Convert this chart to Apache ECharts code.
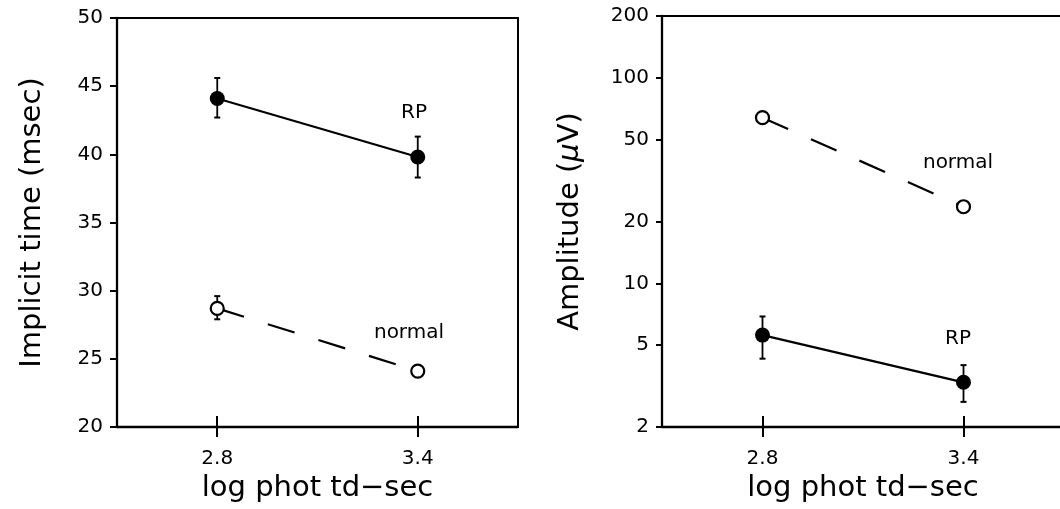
<!DOCTYPE html>
<html>
<head>
<meta charset="utf-8">
<script src="https://cdn.jsdelivr.net/npm/echarts@6/dist/echarts.min.js"></script>
<style>
html,body{margin:0;padding:0;background:#fff;}
#c{width:1060px;height:509px;}
</style>
</head>
<body>
<div id="c"></div>
<script>
// ---- data ----
const xValues = [2.8, 3.4];
const xTickValues = [2.8, 3.4];
const leftYTicks = [20, 25, 30, 35, 40, 45, 50];
const rightYTicks = [2, 5, 10, 20, 50, 100, 200];

// Left panel: implicit time (msec)
const implicitRP = [44.1, 39.8];
const implicitRPLow = [42.7, 38.3];
const implicitRPHigh = [45.6, 41.3];
const implicitNormal = [28.7, 24.1];
const implicitNormalLow = [27.9, null];
const implicitNormalHigh = [29.6, null];

// Right panel: amplitude (µV)
const ampNormal = [64, 23.6];
const ampRP = [5.6, 3.3];
const ampRPLow = [4.3, 2.65];
const ampRPHigh = [6.9, 4.0];

const FONT = 'DejaVu Sans';

function pts(ys) { return xValues.map((x, i) => [x, ys[i]]); }
function errPts(lo, hi) {
  const out = [];
  xValues.forEach((x, i) => { if (lo[i] != null && hi[i] != null) out.push([x, lo[i], hi[i]]); });
  return out;
}

function renderErr(params, api) {
  const x = api.value(0), lo = api.value(1), hi = api.value(2);
  const a = api.coord([x, lo]), b = api.coord([x, hi]);
  const w = 3;
  const st = { stroke: '#000', lineWidth: 1.8 };
  return {
    type: 'group',
    children: [
      { type: 'line', shape: { x1: a[0], y1: a[1], x2: b[0], y2: b[1] }, style: st },
      { type: 'line', shape: { x1: a[0] - w, y1: a[1], x2: a[0] + w, y2: a[1] }, style: { stroke: '#000', lineWidth: 2 } },
      { type: 'line', shape: { x1: b[0] - w, y1: b[1], x2: b[0] + w, y2: b[1] }, style: { stroke: '#000', lineWidth: 2 } }
    ]
  };
}

function xAxisMain(gi) {
  return {
    type: 'value', gridIndex: gi, min: 2.5, max: 3.7,
    name: 'log phot td\u2212sec', nameLocation: 'middle', nameGap: 44,
    nameTextStyle: { fontFamily: FONT, fontSize: 29, color: '#000', verticalAlign: 'top' },
    axisLine: { show: true, lineStyle: { color: '#000', width: 2.3 } },
    axisTick: { show: true, inside: false, length: 10, lineStyle: { color: '#000', width: 2 }, customValues: xTickValues },
    axisLabel: { show: true, customValues: xTickValues, margin: 22, fontFamily: FONT, fontSize: 20, color: '#000',
      formatter: v => Number(v).toFixed(1) },
    splitLine: { show: false }
  };
}
function xAxisInner(gi) {
  return {
    type: 'value', gridIndex: gi, min: 2.5, max: 3.7, position: 'bottom',
    axisLine: { show: false },
    axisTick: { show: true, inside: true, length: 11, lineStyle: { color: '#000', width: 2 }, customValues: xTickValues },
    axisLabel: { show: false },
    splitLine: { show: false }
  };
}

const option = {
  backgroundColor: '#fff',
  animation: false,
  grid: [
    { left: 117, top: 18, width: 401, height: 409, outerBoundsMode: 'none', containLabel: false,
      show: true, borderColor: '#000', borderWidth: 2, backgroundColor: 'transparent' },
    { left: 662, top: 16, width: 402, height: 411, outerBoundsMode: 'none', containLabel: false,
      show: true, borderColor: '#000', borderWidth: 2, backgroundColor: 'transparent' }
  ],
  xAxis: [xAxisMain(0), xAxisMain(1), xAxisInner(0), xAxisInner(1)],
  yAxis: [
    {
      type: 'value', gridIndex: 0, min: 20, max: 50, interval: 5,
      name: 'Implicit time (msec)', nameLocation: 'middle', nameGap: 70,
      nameTextStyle: { fontFamily: FONT, fontSize: 29, color: '#000' },
      axisLine: { show: true, lineStyle: { color: '#000', width: 2.3 } },
      axisTick: { show: true, length: 7, lineStyle: { color: '#000', width: 2 }, customValues: leftYTicks },
      axisLabel: { customValues: leftYTicks, margin: 14, fontFamily: FONT, fontSize: 20, color: '#000' },
      splitLine: { show: false }
    },
    {
      type: 'log', logBase: 10, gridIndex: 1, min: 2, max: 200,
      name: 'Amplitude ({i|\u03bc}V)', nameLocation: 'middle', nameGap: 77,
      nameTextStyle: { fontFamily: FONT, fontSize: 29, color: '#000',
        rich: { i: { fontFamily: FONT, fontSize: 29, fontStyle: 'italic', color: '#000' } } },
      axisLine: { show: true, lineStyle: { color: '#000', width: 2.3 } },
      axisTick: { show: true, length: 6, lineStyle: { color: '#000', width: 2 }, customValues: rightYTicks },
      axisLabel: { customValues: rightYTicks, margin: 13, fontFamily: FONT, fontSize: 20, color: '#000',
        formatter: v => String(+Number(v).toPrecision(3)) },
      splitLine: { show: false }
    }
  ],
  series: [
    // left panel
    { type: 'custom', xAxisIndex: 0, yAxisIndex: 0, renderItem: renderErr, data: errPts(implicitRPLow, implicitRPHigh), z: 1, silent: true },
    { type: 'custom', xAxisIndex: 0, yAxisIndex: 0, renderItem: renderErr, data: errPts(implicitNormalLow, implicitNormalHigh), z: 1, silent: true },
    { type: 'line', name: 'RP', xAxisIndex: 0, yAxisIndex: 0, data: pts(implicitRP), z: 3,
      symbol: 'circle', symbolSize: 15, itemStyle: { color: '#000' },
      lineStyle: { color: '#000', width: 2.2 } },
    { type: 'line', name: 'normal', xAxisIndex: 0, yAxisIndex: 0, data: pts(implicitNormal), z: 3,
      symbol: 'circle', symbolSize: 13, itemStyle: { color: '#fff', borderColor: '#000', borderWidth: 2.2 },
      lineStyle: { color: '#000', width: 2.2, type: [28, 25] } },
    // right panel
    { type: 'custom', xAxisIndex: 1, yAxisIndex: 1, renderItem: renderErr, data: errPts(ampRPLow, ampRPHigh), z: 1, silent: true },
    { type: 'line', name: 'normal', xAxisIndex: 1, yAxisIndex: 1, data: pts(ampNormal), z: 3,
      symbol: 'circle', symbolSize: 13, itemStyle: { color: '#fff', borderColor: '#000', borderWidth: 2.2 },
      lineStyle: { color: '#000', width: 2.2, type: [28, 25] } },
    { type: 'line', name: 'RP', xAxisIndex: 1, yAxisIndex: 1, data: pts(ampRP), z: 3,
      symbol: 'circle', symbolSize: 15, itemStyle: { color: '#000' },
      lineStyle: { color: '#000', width: 2.2 } }
  ],
  graphic: [
    { type: 'text', x: 414, y: 113, style: { text: 'RP', fontFamily: FONT, fontSize: 20, fill: '#000', align: 'center', verticalAlign: 'middle' } },
    { type: 'text', x: 409, y: 333, style: { text: 'normal', fontFamily: FONT, fontSize: 20, fill: '#000', align: 'center', verticalAlign: 'middle' } },
    { type: 'text', x: 958, y: 163, style: { text: 'normal', fontFamily: FONT, fontSize: 20, fill: '#000', align: 'center', verticalAlign: 'middle' } },
    { type: 'text', x: 958, y: 339, style: { text: 'RP', fontFamily: FONT, fontSize: 20, fill: '#000', align: 'center', verticalAlign: 'middle' } }
  ]
};

const chart = echarts.init(document.getElementById('c'), null, { renderer: 'canvas' });
chart.setOption(option);
</script>
</body>
</html>
